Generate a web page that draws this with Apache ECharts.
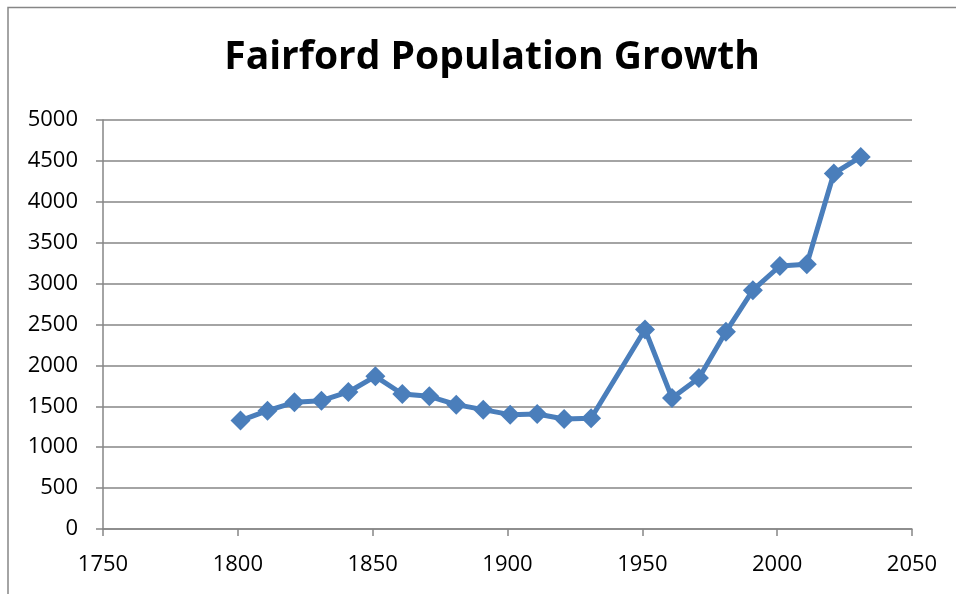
<!DOCTYPE html>
<html>
<head>
<meta charset="utf-8">
<script src="https://cdn.jsdelivr.net/npm/echarts@6/dist/echarts.min.js"></script>
<style>html,body{margin:0;padding:0;background:#fff}#c{width:956px;height:594px}</style>
</head>
<body>
<div id="c"></div>
<script>
const years = [1801,1811,1821,1831,1841,1851,1861,1871,1881,1891,1901,1911,1921,1931,1951,1961,1971,1981,1991,2001,2011,2021,2031];
const population = [1325,1447,1549,1569,1675,1866,1650,1622,1520,1459,1398,1406,1345,1354,2439,1602,1846,2411,2919,3215,3236,4346,4549];
const xTicks = [1750,1800,1850,1900,1950,2000,2050];
const yTicks = [0,500,1000,1500,2000,2500,3000,3500,4000,4500,5000];

const chart = echarts.init(document.getElementById('c'), null, {renderer:'canvas'});
const font = "'Open Sans', 'Liberation Sans', sans-serif";
chart.setOption({
  animation:false,
  backgroundColor:'#fff',
  title:{
    text:'Fairford Population Growth',
    left:487, top:33, textAlign:'center',
    textStyle:{fontFamily:"'Open Sans',sans-serif",fontWeight:'bold',fontSize:39,color:'#000'}
  },
  graphic:[{type:'polyline',shape:{points:[[8,600],[8,7.5],[960,7.5]]},style:{stroke:'#868686',lineWidth:1.5,fill:null}}],
  grid:{left:103,right:44,top:120,bottom:65},
  xAxis:{
    type:'value',min:xTicks[0],max:xTicks[xTicks.length-1],interval:50,
    axisLine:{show:true,onZero:false,lineStyle:{color:'#868686',width:1.5}},
    axisTick:{show:true,length:7,lineStyle:{color:'#868686',width:1.5}},
    splitLine:{show:false},
    axisLabel:{margin:25,fontFamily:font,fontSize:22,color:'#000',formatter:v=>String(v)}
  },
  yAxis:{
    type:'value',min:yTicks[0],max:yTicks[yTicks.length-1],interval:500,
    axisLine:{show:true,lineStyle:{color:'#868686',width:1.5}},
    axisTick:{show:true,length:7,lineStyle:{color:'#868686',width:1.5}},
    splitLine:{show:true,lineStyle:{color:'#868686',width:1.5}},
    axisLabel:{margin:25,fontFamily:font,fontSize:22,color:'#000',formatter:v=>String(v)}
  },
  series:[{
    type:'line',
    data:years.map((y,i)=>[y,population[i]]),
    symbol:'diamond',symbolSize:20,
    lineStyle:{color:'#4A7EBB',width:5},
    itemStyle:{color:'#4A7EBB'}
  }]
});
</script>
</body>
</html>
